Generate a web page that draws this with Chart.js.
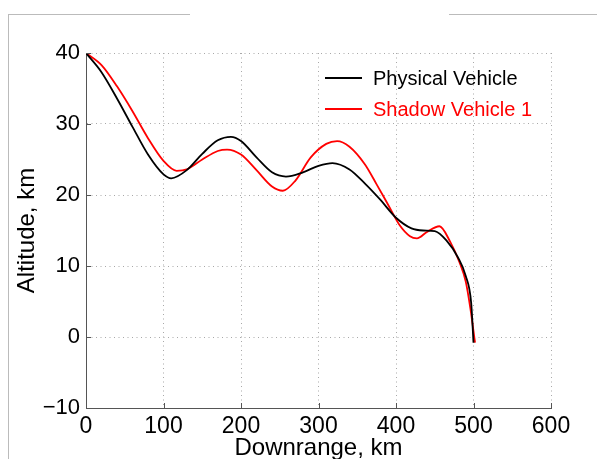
<!DOCTYPE html>
<html>
<head>
<meta charset="utf-8">
<script src="https://cdn.jsdelivr.net/npm/chart.js@4/dist/chart.umd.min.js"></script>
<style>
  html, body { margin: 0; padding: 0; background: #fff; }
  #wrap { position: relative; width: 597px; height: 459px; overflow: hidden; }
  #frameL { position: absolute; left: 8px; top: 14px; width: 1px; height: 445px; background: #bbb; }
  #frameT1 { position: absolute; left: 8px; top: 14px; width: 182px; height: 1px; background: #bbb; }
  #frameT2 { position: absolute; left: 449px; top: 14px; width: 148px; height: 1px; background: #bbb; }
  canvas { position: absolute; left: 0; top: 0; }
</style>
</head>
<body>
<div id="wrap">
  <canvas id="chart" width="597" height="459"></canvas>
  <div id="frameL"></div>
  <div id="frameT1"></div>
  <div id="frameT2"></div>
</div>
<script>
// downrange (km) / altitude (km) samples for each trajectory
const physicalX = [0, 20, 40, 60, 80, 100, 110, 130, 150, 170, 187, 200, 220, 240, 258, 280, 300, 318, 340, 360, 380, 400, 420, 435, 450, 465, 480, 490, 497, 500];
const physicalY = [40, 37.3, 33.6, 29.6, 25.7, 22.9, 22.35, 23.5, 25.8, 27.7, 28.2, 27.6, 25.3, 23.2, 22.6, 23.2, 24.1, 24.5, 23.6, 21.6, 19.3, 16.8, 15.3, 15.0, 14.9, 13.6, 11.2, 8.6, 4.8, -0.8];

const shadowX = [0, 20, 40, 60, 80, 100, 117, 130, 150, 170, 182, 200, 220, 240, 254, 270, 290, 310, 324, 340, 360, 375, 390, 405, 418, 427, 440, 456, 470, 482, 490, 496, 502];
const shadowY = [40, 38.3, 35.3, 31.8, 28.0, 24.8, 23.4, 23.6, 25.0, 26.2, 26.4, 25.7, 23.5, 21.2, 20.6, 22.0, 25.3, 27.2, 27.6, 26.8, 24.3, 21.5, 18.6, 15.7, 14.2, 13.9, 14.8, 15.6, 13.4, 10.5, 7.8, 4.0, -0.8];

const seriesNames = ['Physical Vehicle', 'Shadow Vehicle 1'];
const seriesColors = ['#000000', '#ff0000'];

const xTicks = [0, 100, 200, 300, 400, 500, 600];
const yTicks = [-10, 0, 10, 20, 30, 40];

const FONT = "'Liberation Sans', Arial, Helvetica, sans-serif";

function toPoints(xs, ys) {
  return xs.map((x, i) => ({ x: x, y: ys[i] }));
}

// legend drawn inside the plot, text coloured like its line
const inPlotLegend = {
  id: 'inPlotLegend',
  afterDraw(chart) {
    const ctx = chart.ctx;
    const area = chart.chartArea;
    ctx.save();
    ctx.font = '20px ' + FONT;
    ctx.textBaseline = 'middle';
    seriesNames.forEach((name, i) => {
      const y = area.top + 25 + i * 31;
      const x0 = area.left + 239;
      ctx.strokeStyle = seriesColors[i];
      ctx.lineWidth = 2;
      ctx.beginPath();
      ctx.moveTo(x0, y);
      ctx.lineTo(x0 + 37, y);
      ctx.stroke();
      ctx.fillStyle = seriesColors[i];
      ctx.fillText(name, x0 + 48, y + 1);
    });
    ctx.restore();
  }
};

// small inward tick marks on the two drawn axes
const innerTicks = {
  id: 'innerTicks',
  afterDatasetsDraw(chart) {
    const ctx = chart.ctx;
    const area = chart.chartArea;
    const xs = chart.scales.x, ys = chart.scales.y;
    ctx.save();
    ctx.strokeStyle = '#555';
    ctx.lineWidth = 1;
    ctx.beginPath();
    xTicks.forEach(v => {
      const px = Math.round(xs.getPixelForValue(v)) + 0.5;
      ctx.moveTo(px, area.bottom);
      ctx.lineTo(px, area.bottom - 5);
    });
    yTicks.forEach(v => {
      const py = Math.round(ys.getPixelForValue(v)) + 0.5;
      ctx.moveTo(area.left, py);
      ctx.lineTo(area.left + 5, py);
    });
    ctx.stroke();
    ctx.restore();
  }
};

const gridStyle = { color: '#a8a8a8', lineWidth: 1, drawTicks: false };
// border.dash is what dashes the grid lines in v4; the axis line itself stays solid
const borderStyle = { display: true, color: '#555', width: 1, dash: [1, 3.5] };

new Chart(document.getElementById('chart'), {
  type: 'line',
  data: {
    datasets: [
      {
        label: seriesNames[0],
        data: toPoints(physicalX, physicalY),
        borderColor: seriesColors[0],
        borderWidth: 1.8,
        pointRadius: 0,
        cubicInterpolationMode: 'monotone',
        fill: false
      },
      {
        label: seriesNames[1],
        data: toPoints(shadowX, shadowY),
        borderColor: seriesColors[1],
        borderWidth: 1.8,
        pointRadius: 0,
        cubicInterpolationMode: 'monotone',
        fill: false
      }
    ]
  },
  options: {
    responsive: false,
    animation: false,
    layout: { padding: { top: 53, right: 46, left: 0, bottom: 0 } },
    plugins: {
      legend: { display: false },
      tooltip: { enabled: false }
    },
    scales: {
      x: {
        type: 'linear',
        min: 0,
        max: 600,
        afterBuildTicks: s => { s.ticks = xTicks.map(v => ({ value: v })); },
        afterFit: s => { s.height = 51; },
        grid: gridStyle,
        border: borderStyle,
        ticks: {
          color: '#000',
          padding: 5,
          maxRotation: 0,
          font: { family: FONT, size: 23 }
        },
        title: {
          display: true,
          text: 'Downrange, km',
          color: '#000',
          padding: { top: 0, bottom: 0 },
          font: { family: FONT, size: 24, lineHeight: 0.9 }
        }
      },
      y: {
        type: 'linear',
        min: -10,
        max: 40,
        afterBuildTicks: s => { s.ticks = yTicks.map(v => ({ value: v })); },
        afterFit: s => { s.width = 86; },
        grid: gridStyle,
        border: borderStyle,
        ticks: {
          color: '#000',
          padding: 6,
          font: { family: FONT, size: 22 },
          callback: v => String(v).replace('-', '\u2212')
        },
        title: {
          display: true,
          text: 'Altitude, km',
          color: '#000',
          padding: { top: 13, bottom: 0 },
          font: { family: FONT, size: 24 }
        }
      }
    }
  },
  plugins: [innerTicks, inPlotLegend]
});
</script>
</body>
</html>
